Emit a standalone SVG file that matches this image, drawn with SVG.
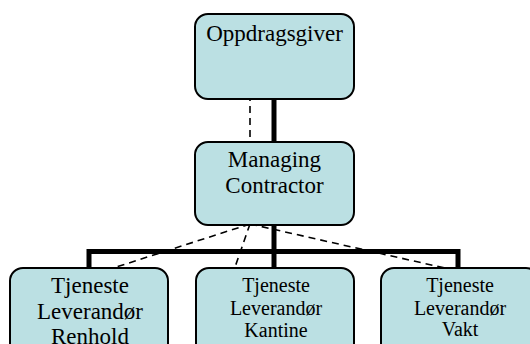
<svg xmlns="http://www.w3.org/2000/svg" width="530" height="344" viewBox="0 0 530 344">
  <style>
    .box { fill: #BBE0E3; stroke: #000; stroke-width: 2; }
    text { font-family: 'Liberation Serif', 'Times New Roman', Times, serif; fill: #000; text-anchor: middle; }
    .big { font-size: 23px; }
    .small { font-size: 20px; }
    .solid { fill: none; stroke: #000; stroke-width: 5; }
    .dash { fill: none; stroke: #000; stroke-width: 1.6; stroke-dasharray: 7 5; }
  </style>
  <rect width="530" height="344" fill="#fff"/>

  <!-- hierarchy lines and dotted links -->
  <g id="connectors">
    <line class="solid" x1="274" y1="99" x2="274" y2="142"/>
    <line class="solid" x1="274" y1="225" x2="274" y2="268"/>
    <polyline class="solid" points="89,268 89,251.5 458,251.5 458,268"/>
    <line class="dash" x1="250" y1="94" x2="250" y2="142"/>
    <line class="dash" x1="250" y1="224" x2="107" y2="270"/>
    <line class="dash" x1="250" y1="224" x2="234" y2="270"/>
    <line class="dash" x1="250" y1="224" x2="458" y2="271"/>
  </g>

  <g id="oppdragsgiver">
    <rect class="box" x="195" y="14" width="159" height="85" rx="13"/>
    <text class="big" x="274.5" y="41" font-family="Liberation Serif, serif">Oppdragsgiver</text>
  </g>

  <g id="managing-contractor">
    <rect class="box" x="195" y="142" width="159" height="83" rx="13"/>
    <text class="big" x="274.5" y="167">Managing</text>
    <text class="big" x="274.5" y="193">Contractor</text>
  </g>

  <g id="renhold">
    <rect class="box" x="10" y="268" width="158" height="100" rx="13"/>
    <text class="big" x="90" y="293">Tjeneste</text>
    <text class="big" x="90" y="319">Leverandør</text>
    <text class="big" x="90" y="344">Renhold</text>
  </g>

  <g id="kantine">
    <rect class="box" x="196" y="268" width="158" height="100" rx="13"/>
    <text class="small" x="276" y="292">Tjeneste</text>
    <text class="small" x="276" y="314.5">Leverandør</text>
    <text class="small" x="276" y="337">Kantine</text>
  </g>

  <g id="vakt">
    <rect class="box" x="381" y="268" width="158" height="100" rx="13"/>
    <text class="small" x="460" y="292">Tjeneste</text>
    <text class="small" x="460" y="314.5">Leverandør</text>
    <text class="small" x="460" y="336">Vakt</text>
  </g>
</svg>
